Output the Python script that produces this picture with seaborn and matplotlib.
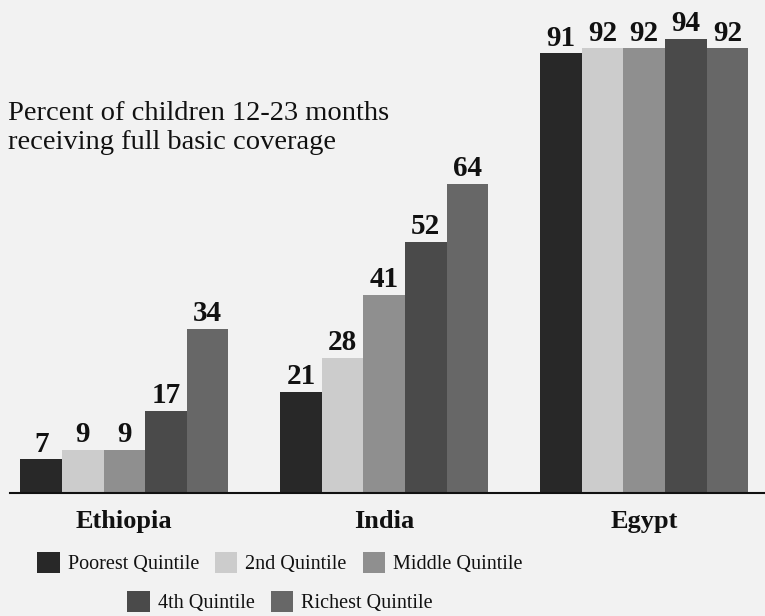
import pandas as pd
import seaborn as sns
import matplotlib.pyplot as plt
from matplotlib.patches import Patch

countries = ['Ethiopia', 'India', 'Egypt']
quintiles = ['Poorest Quintile', '2nd Quintile', 'Middle Quintile', '4th Quintile', 'Richest Quintile']
coverage = {
    'Poorest Quintile': [7, 21, 91],
    '2nd Quintile': [9, 28, 92],
    'Middle Quintile': [9, 41, 92],
    '4th Quintile': [17, 52, 94],
    'Richest Quintile': [34, 64, 92],
}
colors = ['#282828', '#cccccc', '#8f8f8f', '#4a4a4a', '#676767']

rows = []
for q in quintiles:
    for c, v in zip(countries, coverage[q]):
        rows.append({'Country': c, 'Quintile': q, 'Percent': v})
data = pd.DataFrame(rows)

sns.set_theme(style='white')
plt.rcParams['font.family'] = ['Liberation Serif', 'DejaVu Serif']
bg = '#f2f2f2'

fig = plt.figure(figsize=(7.65, 6.16), dpi=100, facecolor=bg)
ax = fig.add_axes([10 / 765, 123 / 616, 755 / 765, 493 / 616])
ax.set_facecolor(bg)

sns.barplot(data=data, x='Country', y='Percent', hue='Quintile', order=countries,
            hue_order=quintiles, palette=colors, width=0.8, saturation=1,
            linewidth=0, ax=ax)

for cont in ax.containers:
    ax.bar_label(cont, padding=1, fontsize=21, fontweight='bold', color='#111111')

ax.set_ylim(0, 102)
ax.set_xlim(-0.44, 2.465)
ax.set_yticks([])
ax.set_xlabel('')
ax.set_ylabel('')
ax.tick_params(axis='x', length=0, pad=12, labelsize=19)
for lab in ax.get_xticklabels():
    lab.set_fontweight('bold')
    lab.set_color('#111111')
sns.despine(ax=ax, left=True)
ax.spines['bottom'].set_color('#111111')
ax.spines['bottom'].set_linewidth(1.5)
ax.get_legend().remove()

fig.text(8 / 765, 1 - 128 / 616, 'Percent of children 12-23 months\nreceiving full basic coverage',
         fontsize=20.5, va='center', ha='left', linespacing=1.25, color='#111111')

handles = [Patch(facecolor=c, edgecolor='none', label=q) for c, q in zip(colors, quintiles)]
common = dict(frameon=False, fontsize=14.5, handlelength=1.1, handleheight=1.25,
              handletextpad=0.4, columnspacing=0.8, borderaxespad=0, borderpad=0,
              labelcolor='#111111')
leg1 = fig.legend(handles=handles[:3], ncol=3, loc='center',
                  bbox_to_anchor=(280 / 765, 1 - 563 / 616), **common)
leg2 = fig.legend(handles=handles[3:], ncol=2, loc='center',
                  bbox_to_anchor=(280 / 765, 1 - 602 / 616), **common)

fig.savefig('out.png', dpi=100, facecolor=bg)
